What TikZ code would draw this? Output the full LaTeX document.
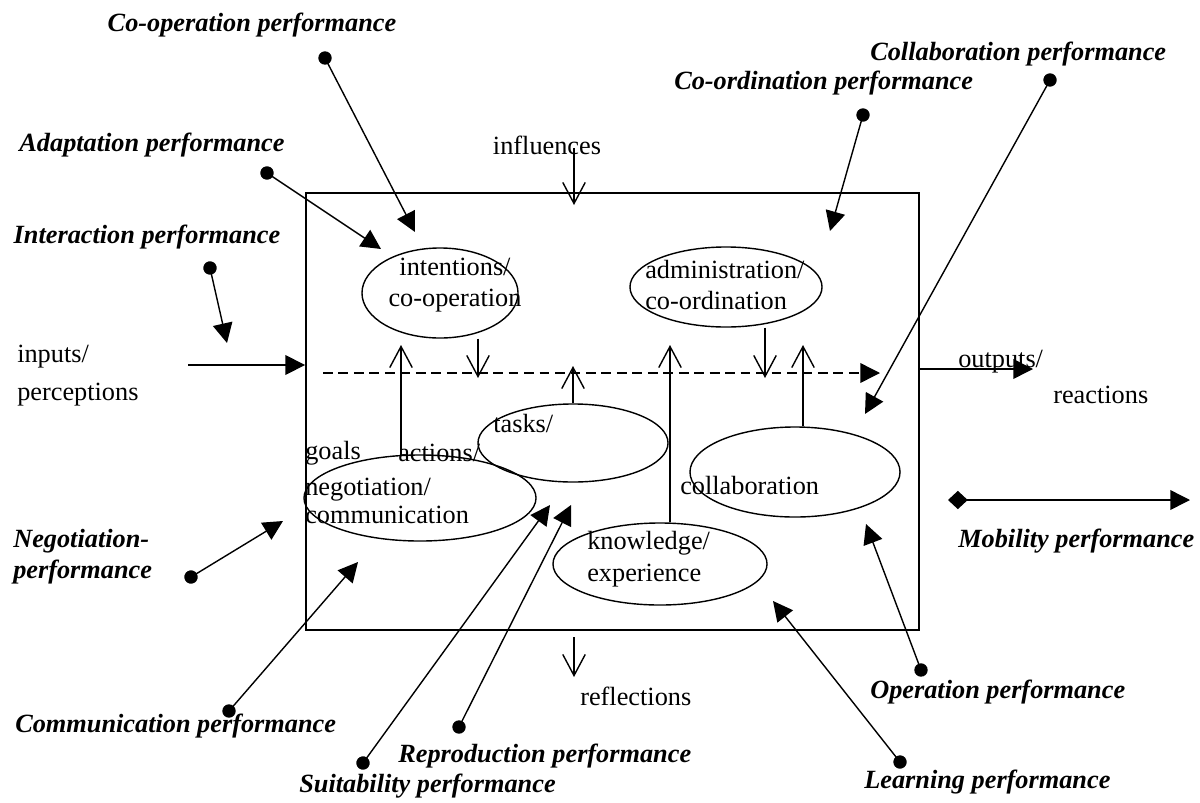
\documentclass[tikz,border=0pt]{standalone}
\usepackage{fontspec}
\setmainfont{Liberation Serif}
\usetikzlibrary{arrows.meta}
\usetikzlibrary{calc}
\usetikzlibrary{shapes.geometric}

\tikzset{
  txt/.style={inner sep=0pt, anchor=west, align=left, font=\fontsize{18.7}{21.5}\selectfont},
  perf/.style={inner sep=0pt, anchor=west, align=left, font=\fontsize{18.7}{22}\selectfont\bfseries\itshape},
  blob/.style={ellipse, draw, line width=1pt, inner sep=0pt},
  frame/.style={draw, line width=1.2pt, inner sep=0pt, minimum width=15.325cm, minimum height=10.925cm},
  pin/.style={line width=1pt, shorten <=-4.75pt, {Circle[length=9.5pt]}-{Triangle[length=14pt,width=14pt]}},
  feed/.style={line width=1pt, -{Straight Barb[length=15pt,width=16pt]}},
  flow/.style={line width=1pt, -{Triangle[length=14pt,width=14pt]}},
}

\begin{document}
\begin{tikzpicture}[x=0.025cm, y=-0.025cm]
  \useasboundingbox (0,0) rectangle (1200,802);

  \node[frame] (sys) at (612.5,411.5) {};

  \node[blob, minimum width=3.9cm, minimum height=2.25cm] (intent) at (440,293) {};
  \node[blob, minimum width=4.8cm, minimum height=2cm] (admin) at (726,287) {};
  \node[blob, minimum width=4.75cm, minimum height=1.95cm] (tasks) at (573,443) {};
  \node[blob, minimum width=5.8cm, minimum height=2.15cm] (negot) at (420,498) {};
  \node[blob, minimum width=5.35cm, minimum height=2.05cm] (knowl) at (660,564) {};
  \node[blob, minimum width=5.25cm, minimum height=2.25cm] (collab) at (795,472) {};

  \node[txt, anchor=center, align=center] (intenttxt) at (455,285) {intentions/\\co-operation};
  \node[txt] (admintxt) at (645,285) {administration/\\co-ordination};
  \node[txt] (taskstxt) at (493,423) {tasks/};
  \node[txt] (goals) at (305,453) {goals};
  \node[txt] (actions) at (398,453) {actions/};
  \node[txt, font=\fontsize{18.7}{20}\selectfont] (negottxt) at (305,501) {negotiation/\\communication};
  \node[txt, font=\fontsize{18.7}{22.8}\selectfont] (knowltxt) at (587,559) {knowledge/\\experience};
  \node[txt] (collabtxt) at (680,485) {collaboration};
  \node[txt, anchor=center] (influences) at (547,145) {influences};
  \node[txt, font=\fontsize{18.7}{27}\selectfont] (inputs) at (17,376) {inputs/\\perceptions};
  \node[txt] (outputs) at (958,362) {outputs/};
  \node[txt] (reactions) at (1053,395) {reactions};
  \node[txt] (reflections) at (580,696) {reflections};

  \node[perf, anchor=center] (coopp) at (252,25) {Co-operation performance};
  \node[perf] (collabp) at (870,54) {Collaboration performance};
  \node[perf] (coordp) at (674,83) {Co-ordination performance};
  \node[perf, anchor=center] (adaptp) at (152,145) {Adaptation performance};
  \node[perf, anchor=center] (interp) at (147,237) {Interaction performance};
  \node[perf] (negop) at (13,557) {Negotiation-\\performance};
  \node[perf] (commp) at (15,726) {Communication performance};
  \node[perf] (reprop) at (398,756) {Reproduction performance};
  \node[perf] (suitp) at (299,786) {Suitability performance};
  \node[perf] (learnp) at (864,782) {Learning performance};
  \node[perf] (operp) at (870,692) {Operation performance};
  \node[perf] (mobp) at (958,541) {Mobility performance};

  \coordinate (inbeg) at (188,365);
  \coordinate (outend) at (1033,369);
  \coordinate (inftop) at (574,148);
  \coordinate (infbot) at (574,205);
  \coordinate (dash0) at (323,373);
  \coordinate (dash1) at (880,373);
  \coordinate (d1) at (478,378);
  \coordinate (d2) at (765,378);
  \coordinate (u0) at (401,456);
  \coordinate (u1) at (401,345);
  \coordinate (u2) at (573,366);
  \coordinate (u3) at (670,345);
  \coordinate (u4) at (803,345);
  \coordinate (r0) at (574,637);
  \coordinate (r1) at (574,677);

  \draw[flow] (inbeg) -- (inbeg -| sys.west);
  \draw[flow] (sys.east |- outend) -- (outend);
  \draw[feed] (inftop) -- (infbot);
  \draw[flow, dash pattern=on 7pt off 4pt] (dash0) -- (dash1);
  \draw[feed] (intent.south -| d1) -- (d1);
  \draw[feed] (admin.south -| d2) -- (d2);
  \draw[feed] (u0) -- (u1);
  \draw[feed] (tasks.north) -- (u2);
  \draw[feed] (knowl.north -| u3) -- (u3);
  \draw[feed] (collab.north -| u4) -- (u4);
  \draw[feed] (r0) -- (r1);

  \coordinate (coopdot) at (325,58);   \coordinate (cooptip) at (415,232);
  \coordinate (adaptdot) at (267,173); \coordinate (adapttip) at (381,249);
  \coordinate (interdot) at (210,268); \coordinate (intertip) at (227,343);
  \coordinate (coorddot) at (863,115); \coordinate (coordtip) at (830,231);
  \coordinate (collabdot) at (1050,80); \coordinate (collabtip) at (865,414);
  \coordinate (negodot) at (191,577);  \coordinate (negotip) at (283,521);
  \coordinate (commdot) at (229,711);  \coordinate (commtip) at (358,562);
  \coordinate (suitdot) at (363,763);  \coordinate (suittip) at (550,505);
  \coordinate (reprodot) at (459,727); \coordinate (reprotip) at (571,505);
  \coordinate (learndot) at (900,762); \coordinate (learntip) at (773,601);
  \coordinate (operdot) at (921,670);  \coordinate (opertip) at (866,524);
  \coordinate (mob0) at (948,500);     \coordinate (mob1) at (1190,500);

  \draw[pin] (coopdot) -- (cooptip);
  \draw[pin] (adaptdot) -- (adapttip);
  \draw[pin] (interdot) -- (intertip);
  \draw[pin] (coorddot) -- (coordtip);
  \draw[pin] (collabdot) -- (collabtip);
  \draw[pin] (negodot) -- (negotip);
  \draw[pin] (commdot) -- (commtip);
  \draw[pin] (suitdot) -- (suittip);
  \draw[pin] (reprodot) -- (reprotip);
  \draw[pin] (learndot) -- (learntip);
  \draw[pin] (operdot) -- (opertip);
  \draw[line width=1pt, {Diamond[length=14pt,width=13pt]}-{Triangle[length=14pt,width=14pt]}] (mob0) -- (mob1);
\end{tikzpicture}
\end{document}
